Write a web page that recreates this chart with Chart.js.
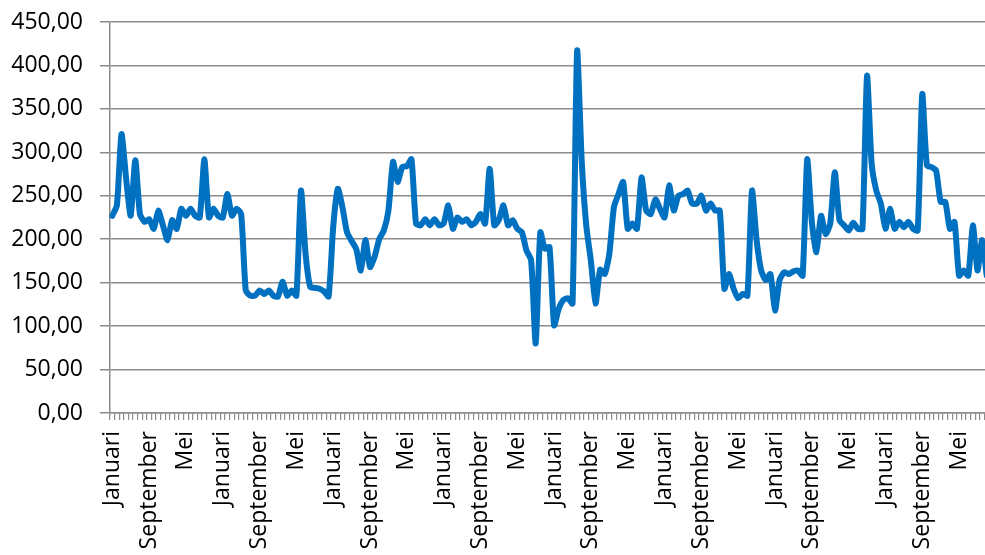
<!DOCTYPE html>
<html>
<head>
<meta charset="utf-8">
<script src="https://cdn.jsdelivr.net/npm/chart.js@4/dist/chart.umd.min.js"></script>
<style>
html,body{margin:0;padding:0;background:#fff;overflow:hidden;width:985px;height:555px;}
#wrap{width:989px;height:555px;}
</style>
</head>
<body>
<div id="wrap"><canvas id="c" width="989" height="555"></canvas></div>
<script>
const monthNames = ["Januari","Februari","Maret","April","Mei","Juni","Juli","Agustus","September","Oktober","November","Desember"];
const labelEvery = 8;
const yTicks = [0,50,100,150,200,250,300,350,400,450];
const values = [
227,239,321,270,227,291,229,220,223,212,
233,216,199,222,212,235,227,235,227,225,
292,225,235,227,225,252,227,235,229,141,
135,135,141,137,141,135,134,151,135,141,
135,256,183,145,144,143,140,134,214,258,
237,208,198,189,164,199,168,180,200,210,
233,289,266,283,284,292,218,216,223,216,
223,216,218,239,212,225,220,223,216,220,
229,218,281,216,222,239,216,222,212,208,
187,176,80,208,189,191,101,120,130,132,
126,417,290,215,175,126,165,160,183,237,
252,266,212,218,212,271,233,229,246,235,
225,262,233,250,252,256,241,241,250,233,
241,233,233,143,160,143,132,137,135,256,
199,164,153,160,118,153,162,160,163,164,
158,292,220,185,227,206,218,277,222,216,
210,219,212,212,388,287,256,241,212,235,
212,220,214,220,212,210,367,285,283,279,
243,243,212,220,158,164,158,216,164,199,
158
];
const categories = values.map((v,i)=>monthNames[i % 12]);

const axisGray = '#8c8c8c';
const fontSpec = {family: "'Open Sans', sans-serif", size: 23};

new Chart(document.getElementById('c'), {
  type: 'line',
  data: {
    labels: categories,
    datasets: [{
      data: values,
      borderColor: '#0070C0',
      borderWidth: 6,
      pointRadius: 0,
      tension: 0.2,
      fill: false,
      borderJoinStyle: 'round',
      borderCapStyle: 'round'
    }]
  },
  options: {
    responsive: false,
    animation: false,
    devicePixelRatio: 1,
    layout: {padding: {top: 22, right: 0, bottom: 0, left: 0}},
    plugins: {legend: {display: false}, tooltip: {enabled: false}},
    scales: {
      x: {
        type: 'category',
        offset: true,
        grid: {display: true, drawOnChartArea: false, drawTicks: true, tickLength: 7, color: axisGray, lineWidth: 1.2, offset: true},
        border: {display: true, color: axisGray, width: 1.5},
        ticks: {
          autoSkip: false, maxRotation: 90, minRotation: 90, padding: 11,
          color: '#000', font: fontSpec,
          callback: function(val, idx){ return idx % labelEvery === 0 ? categories[idx] : ''; }
        },
        afterFit: function(s){ s.height = 142; s.paddingLeft = 0; s.paddingRight = 0; }
      },
      y: {
        min: yTicks[0], max: yTicks[yTicks.length-1],
        afterBuildTicks: function(s){ s.ticks = yTicks.map(v=>({value:v})); },
        grid: {color: axisGray, lineWidth: 1.5, tickLength: 10, drawTicks: true},
        border: {display: true, color: axisGray, width: 1.5},
        ticks: {
          padding: 17, color: '#000', font: fontSpec,
          callback: function(v){ return Number(v).toFixed(2).replace('.', ','); }
        },
        afterFit: function(s){ s.width = 110; s.paddingTop = 0; s.paddingBottom = 0; }
      }
    }
  }
});
</script>
</body>
</html>
